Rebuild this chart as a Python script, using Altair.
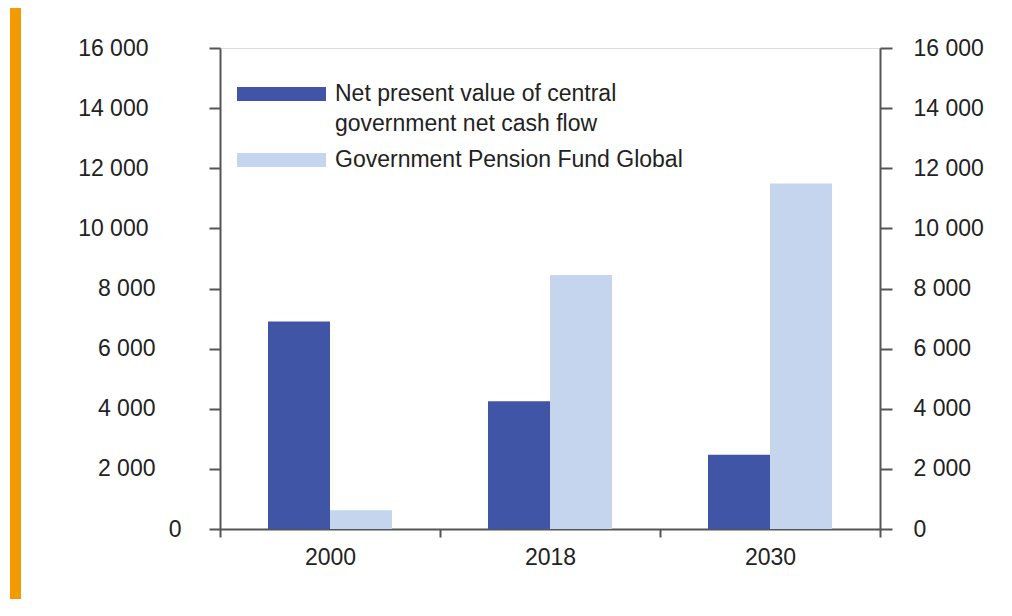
import altair as alt
import pandas as pd

years = ["2000", "2018", "2030"]
series = ["Net present value of central government net cash flow",
          "Government Pension Fund Global"]
legend_lines = [["Net present value of central", "government net cash flow"],
                ["Government Pension Fund Global"]]
npv_values = [6900, 4250, 2470]
gpfg_values = [620, 8450, 11490]
colors = ["#4055A6", "#C5D5EE"]
y_ticks = [0, 2000, 4000, 6000, 8000, 10000, 12000, 14000, 16000]

rows = []
for i, yr in enumerate(years):
    rows.append({"year": yr, "series": series[0], "value": npv_values[i]})
    rows.append({"year": yr, "series": series[1], "value": gpfg_values[i]})
df = pd.DataFrame(rows)

FONT = "Liberation Sans"
TXT = "#222222"
AX = "#555555"
label_expr = "replace(format(datum.value, ','), ',', ' ')"

x_enc = alt.X("year:N", sort=years,
              scale=alt.Scale(paddingInner=0, paddingOuter=0),
              axis=alt.Axis(title=None, labelAngle=0, tickBand="extent",
                            tickSize=8, tickWidth=2, tickColor=AX,
                            domainColor=AX, domainWidth=2,
                            labelFont=FONT, labelFontSize=23, labelColor=TXT,
                            labelPadding=9, grid=False))
xo_enc = alt.XOffset("series:N", sort=series,
                     scale=alt.Scale(paddingInner=0, paddingOuter=0.774))
color_enc = alt.Color("series:N", sort=series,
                      scale=alt.Scale(domain=series, range=colors), legend=None)
y_scale = alt.Scale(domain=[0, 16000], nice=False)

bars = alt.Chart(df).mark_bar().encode(
    x=x_enc,
    xOffset=xo_enc,
    color=color_enc,
    y=alt.Y("value:Q", scale=y_scale,
            axis=alt.Axis(title=None, orient="left", values=y_ticks,
                          labelExpr=label_expr, tickSize=11, tickWidth=2,
                          tickColor=AX, domainColor=AX, domainWidth=2,
                          labelFont=FONT, labelFontSize=23, labelColor=TXT,
                          labelPadding={"condition": [
                              {"test": "datum.value >= 10000", "value": 61},
                              {"test": "datum.value == 0", "value": 28}],
                              "value": 54},
                          grid=False)),
)

right = alt.Chart(df).mark_bar(opacity=0).encode(
    x=alt.X("year:N", sort=years),
    xOffset=alt.XOffset("series:N", sort=series),
    y=alt.Y("value:Q", scale=y_scale,
            axis=alt.Axis(title=None, orient="right", values=y_ticks,
                          labelExpr=label_expr, tickSize=12, tickWidth=2,
                          tickColor=AX, domainColor=AX, domainWidth=2,
                          labelFont=FONT, labelFontSize=23, labelColor=TXT,
                          labelPadding=21, grid=False)),
)

one = alt.Data(values=[{}])

swatch1 = alt.Chart(one).mark_rect(color=colors[0]).encode(
    x=alt.value(17), x2=alt.value(106), y=alt.value(39), y2=alt.value(53))
swatch2 = alt.Chart(one).mark_rect(color=colors[1]).encode(
    x=alt.value(17), x2=alt.value(106), y=alt.value(105), y2=alt.value(119))
text1 = alt.Chart(one).mark_text(
    text=legend_lines[0], align="left", baseline="alphabetic",
    font=FONT, fontSize=23, color=TXT, lineHeight=30).encode(
    x=alt.value(115), y=alt.value(53))
text2 = alt.Chart(one).mark_text(
    text=legend_lines[1], align="left", baseline="alphabetic",
    font=FONT, fontSize=23, color=TXT, lineHeight=30).encode(
    x=alt.value(115), y=alt.value(119))

frame = alt.Chart(one).mark_rect(color="#F29A00").encode(
    x=alt.value(-210), x2=alt.value(-199), y=alt.value(-40), y2=alt.value(560))

chart = alt.layer(frame, bars, right, swatch1, swatch2, text1, text2).resolve_axis(
    y="independent"
).properties(
    width=660, height=481,
    padding={"left": 212, "top": 40, "right": 110, "bottom": 70},
    autosize=alt.AutoSizeParams(type="none"),
).configure_view(stroke=AX, strokeWidth=2).configure(font=FONT)

chart.save("out.html", embed_options={"renderer": "svg", "actions": False})
